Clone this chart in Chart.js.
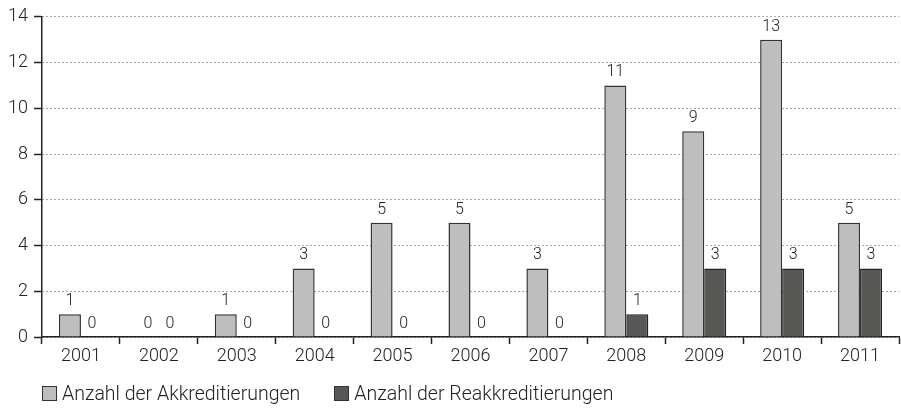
<!DOCTYPE html>
<html lang="de">
<head>
    <meta charset="UTF-8">
    <title>Akkreditierungen</title>
    <style>
        body {
            margin: 0;
            background: #fff;
            font-family: Roboto, Arial, sans-serif;
        }
        #wrap {
            position: relative;
            width: 901px;
            height: 408px;
        }
        #legend {
            position: absolute;
            left: 42px;
            top: 382px;
            font-size: 19.5px;
            font-weight: 300;
            color: #222;
            white-space: nowrap;
        }
        #legend span.item {
            display: inline-block;
            margin-right: 34px;
        }
        #legend span.box {
            display: inline-block;
            width: 13px;
            height: 13px;
            border: 1px solid #333;
            vertical-align: -1px;
            margin-right: 5px;
        }
    </style>
</head>
<body>
    <div id="wrap">
        <canvas id="chart" width="901" height="408"></canvas>
        <div id="legend"></div>
    </div>

    <script src="https://cdn.jsdelivr.net/npm/chart.js"></script>
    <script>
        const years = ['2001', '2002', '2003', '2004', '2005', '2006', '2007', '2008', '2009', '2010', '2011'];
        const akkreditierungen = [1, 0, 1, 3, 5, 5, 3, 11, 9, 13, 5];
        const reakkreditierungen = [0, 0, 0, 0, 0, 0, 0, 1, 3, 3, 3];
        const seriesNames = ['Anzahl der Akkreditierungen', 'Anzahl der Reakkreditierungen'];
        const seriesColors = ['#bdbebd', '#575756'];

        // Zahlen ueber den Balken, mit weissem Hintergrund (unterbricht Gitterlinien)
        const valueLabels = {
            id: 'valueLabels',
            afterDatasetsDraw(chart) {
                const ctx = chart.ctx;
                ctx.save();
                ctx.font = '300 16px Roboto, Arial, sans-serif';
                ctx.textAlign = 'center';
                ctx.textBaseline = 'alphabetic';
                chart.data.datasets.forEach((ds, i) => {
                    chart.getDatasetMeta(i).data.forEach((bar, j) => {
                        const txt = String(ds.data[j]);
                        const w = ctx.measureText(txt).width;
                        const y = bar.y - 9;
                        ctx.fillStyle = '#fff';
                        ctx.fillRect(bar.x - w / 2 - 3, y - 13, w + 6, 15);
                        ctx.fillStyle = '#222';
                        ctx.fillText(txt, bar.x, y);
                    });
                });
                ctx.restore();
            }
        };

        const borderFor = c => (c.raw === 0 ? 0 : 1.5);

        const ctx = document.getElementById('chart').getContext('2d');
        const chart = new Chart(ctx, {
            type: 'bar',
            data: {
                labels: years,
                datasets: [
                    {
                        label: seriesNames[0],
                        data: akkreditierungen,
                        backgroundColor: seriesColors[0],
                        borderColor: '#333',
                        borderWidth: borderFor
                    },
                    {
                        label: seriesNames[1],
                        data: reakkreditierungen,
                        backgroundColor: seriesColors[1],
                        borderColor: '#222',
                        borderWidth: borderFor
                    }
                ]
            },
            options: {
                responsive: false,
                animation: false,
                layout: { padding: { left: 0, right: 2, top: 10, bottom: 41 } },
                datasets: { bar: { categoryPercentage: 0.565, barPercentage: 1 } },
                plugins: {
                    legend: { display: false },
                    tooltip: { enabled: false }
                },
                scales: {
                    x: {
                        afterFit(scale) { scale.height = 30; },
                        grid: {
                            offset: true,
                            drawOnChartArea: false,
                            tickLength: 7,
                            tickColor: '#222',
                            tickWidth: 1.5
                        },
                        border: { color: '#222', width: 1.5 },
                        ticks: {
                            color: '#222',
                            padding: 2,
                            font: { family: 'Roboto', size: 18, weight: 300 }
                        }
                    },
                    y: {
                        min: 0,
                        max: 14,
                        afterFit(scale) { scale.width = 42; },
                        grid: {
                            color: '#555',
                            lineWidth: 1,
                            tickLength: 8,
                            tickColor: '#222',
                            tickWidth: 1.5,
                            tickBorderDash: []
                        },
                        border: { color: '#222', width: 1.5, dash: [1, 3] },
                        ticks: {
                            stepSize: 2,
                            color: '#222',
                            padding: 6,
                            font: { family: 'Roboto', size: 18, weight: 300 }
                        }
                    }
                }
            },
            plugins: [valueLabels]
        });

        // Legende als HTML
        const legend = document.getElementById('legend');
        seriesNames.forEach((name, i) => {
            const item = document.createElement('span');
            item.className = 'item';
            const box = document.createElement('span');
            box.className = 'box';
            box.style.background = seriesColors[i];
            item.appendChild(box);
            item.appendChild(document.createTextNode(name));
            legend.appendChild(item);
        });
    </script>
</body>
</html>
